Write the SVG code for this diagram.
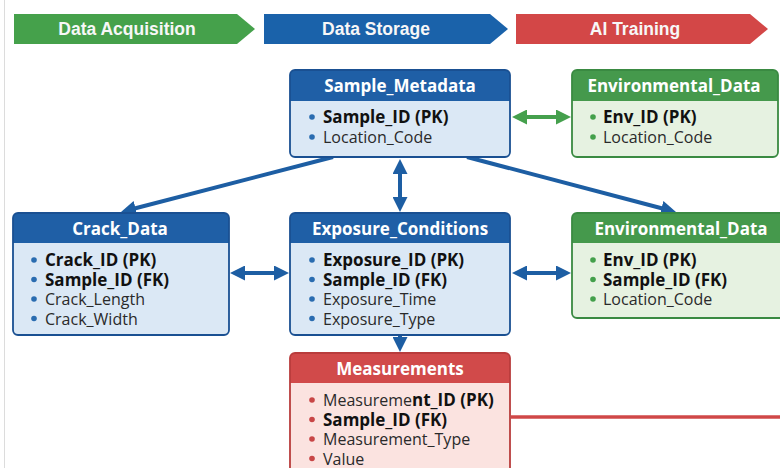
<svg xmlns="http://www.w3.org/2000/svg" width="780" height="468" viewBox="0 0 780 468">
  <defs>
    <style>
      .banner-text { font-family: "Liberation Sans", Arial, sans-serif; font-weight: bold; font-size: 17.5px; fill: #f7f7f7; text-anchor: middle; }
      .hdr { font-family: "Open Sans", "Noto Sans", sans-serif; font-weight: bold; font-size: 17px; fill: #ffffff; text-anchor: middle; }
      .row { font-family: "Open Sans", "Noto Sans", sans-serif; font-size: 16px; fill: #2a2a2a; }
      .key { font-weight: bold; fill: #111111; font-size: 17px; }
      .blue .body { fill: #dbe8f5; }
      .blue .head { fill: #1f5fa6; }
      .blue .frame { fill: none; stroke: #1a5092; stroke-width: 1.8; }
      .blue .dot { fill: #2a6cb0; }
      .green .body { fill: #e6f2e1; }
      .green .head { fill: #45994c; }
      .green .frame { fill: none; stroke: #3a8a42; stroke-width: 1.8; }
      .green .dot { fill: #43a04b; }
      .red .body { fill: #fbe3e0; }
      .red .head { fill: #d14a4a; }
      .red .frame { fill: none; stroke: #b93c3c; stroke-width: 1.8; }
      .red .dot { fill: #c84646; }
      .conn { fill: none; stroke: #1d5ea3; stroke-width: 4; }
      .conn-green { fill: none; stroke: #45a04d; stroke-width: 4; }
      .conn-red { fill: none; stroke: #d04848; stroke-width: 3.5; }
    </style>
    <marker id="headBlue" viewBox="0 0 15 15" refX="3" refY="7.5" markerWidth="15" markerHeight="15" markerUnits="userSpaceOnUse" orient="auto-start-reverse">
      <path d="M0,0 L15,7.5 L0,15 z" fill="#1d5ea3"/>
    </marker>
    <marker id="headGreen" viewBox="0 0 15 15" refX="3" refY="7.5" markerWidth="15" markerHeight="15" markerUnits="userSpaceOnUse" orient="auto-start-reverse">
      <path d="M0,0 L15,7.5 L0,15 z" fill="#45a04d"/>
    </marker>
  </defs>

  <rect x="0" y="0" width="780" height="468" fill="#ffffff"/>
  <line x1="4.5" y1="0" x2="4.5" y2="468" stroke="#dcdcdc" stroke-width="1"/>

  <!-- pipeline stages -->
  <g id="stage-acquisition">
    <polygon points="14,14 237,14 255,29 237,44 14,44" fill="#45a14b"/>
    <text class="banner-text" x="127" y="35">Data Acquisition</text>
  </g>
  <g id="stage-storage">
    <polygon points="264,14 490,14 508,29 490,44 264,44" fill="#1a62aa"/>
    <text class="banner-text" x="376" y="35">Data Storage</text>
  </g>
  <g id="stage-training">
    <polygon points="516,14 750,14 768,29 750,44 516,44" fill="#d34747"/>
    <text class="banner-text" x="635" y="35">AI Training</text>
  </g>

  <!-- connectors -->
  <g id="connectors">
    <line class="conn-green" x1="524" y1="117" x2="559" y2="117" marker-start="url(#headGreen)" marker-end="url(#headGreen)"/>
    <line class="conn" x1="333" y1="157" x2="132.6" y2="209" marker-end="url(#headBlue)"/>
    <line class="conn" x1="467" y1="157" x2="664.4" y2="209" marker-end="url(#headBlue)"/>
    <line class="conn" x1="400" y1="171" x2="400" y2="200" marker-start="url(#headBlue)" marker-end="url(#headBlue)"/>
    <line class="conn" x1="242" y1="273" x2="277" y2="273" marker-start="url(#headBlue)" marker-end="url(#headBlue)"/>
    <line class="conn" x1="524" y1="273" x2="559" y2="273" marker-start="url(#headBlue)" marker-end="url(#headBlue)"/>
    <line class="conn" x1="400" y1="336" x2="400" y2="340" marker-end="url(#headBlue)"/>
    <line class="conn-red" x1="511" y1="417" x2="780" y2="417"/>
  </g>

  <!-- Sample_Metadata -->
  <g id="sample-metadata" class="blue">
    <rect class="body" x="290" y="70" width="220" height="87" rx="5"/>
    <path class="head" d="M290,101 V75 a5,5 0 0 1 5,-5 H505 a5,5 0 0 1 5,5 V101 z"/>
    <rect class="frame" x="290" y="70" width="220" height="87" rx="5"/>
    <text class="hdr" x="400" y="92">Sample_Metadata</text>
    <circle class="dot" cx="312" cy="117" r="2.8"/>
    <text class="row key" x="323" y="123">Sample_ID (PK)</text>
    <circle class="dot" cx="312" cy="137" r="2.8"/>
    <text class="row" x="323" y="143">Location_Code</text>
  </g>

  <!-- Environmental_Data (top) -->
  <g id="environmental-data-top" class="green">
    <rect class="body" x="572" y="70" width="206" height="87" rx="5"/>
    <path class="head" d="M572,101 V75 a5,5 0 0 1 5,-5 H773 a5,5 0 0 1 5,5 V101 z"/>
    <rect class="frame" x="572" y="70" width="206" height="87" rx="5"/>
    <text class="hdr" x="674" y="92">Environmental_Data</text>
    <circle class="dot" cx="593" cy="117" r="2.8"/>
    <text class="row key" x="603" y="123">Env_ID (PK)</text>
    <circle class="dot" cx="593" cy="137" r="2.8"/>
    <text class="row" x="603" y="143">Location_Code</text>
  </g>

  <!-- Crack_Data -->
  <g id="crack-data" class="blue">
    <rect class="body" x="13" y="213" width="216" height="122" rx="5"/>
    <path class="head" d="M13,243 V218 a5,5 0 0 1 5,-5 H224 a5,5 0 0 1 5,5 V243 z"/>
    <rect class="frame" x="13" y="213" width="216" height="122" rx="5"/>
    <text class="hdr" x="120" y="235">Crack_Data</text>
    <circle class="dot" cx="34" cy="260" r="2.8"/>
    <text class="row key" x="45" y="266">Crack_ID (PK)</text>
    <circle class="dot" cx="34" cy="279.5" r="2.8"/>
    <text class="row key" x="45" y="285.5">Sample_ID (FK)</text>
    <circle class="dot" cx="34" cy="299" r="2.8"/>
    <text class="row" x="45" y="305">Crack_Length</text>
    <circle class="dot" cx="34" cy="318.5" r="2.8"/>
    <text class="row" x="45" y="324.5">Crack_Width</text>
  </g>

  <!-- Exposure_Conditions -->
  <g id="exposure-conditions" class="blue">
    <rect class="body" x="290" y="213" width="220" height="122" rx="5"/>
    <path class="head" d="M290,243 V218 a5,5 0 0 1 5,-5 H505 a5,5 0 0 1 5,5 V243 z"/>
    <rect class="frame" x="290" y="213" width="220" height="122" rx="5"/>
    <text class="hdr" x="400" y="235">Exposure_Conditions</text>
    <circle class="dot" cx="312" cy="260" r="2.8"/>
    <text class="row key" x="323" y="266">Exposure_ID (PK)</text>
    <circle class="dot" cx="312" cy="279.5" r="2.8"/>
    <text class="row key" x="323" y="285.5">Sample_ID (FK)</text>
    <circle class="dot" cx="312" cy="299" r="2.8"/>
    <text class="row" x="323" y="305">Exposure_Time</text>
    <circle class="dot" cx="312" cy="318.5" r="2.8"/>
    <text class="row" x="323" y="324.5">Exposure_Type</text>
  </g>

  <!-- Environmental_Data (linked) -->
  <g id="environmental-data" class="green">
    <rect class="body" x="572" y="213" width="218" height="105" rx="5"/>
    <path class="head" d="M572,243 V218 a5,5 0 0 1 5,-5 H785 a5,5 0 0 1 5,5 V243 z"/>
    <rect class="frame" x="572" y="213" width="218" height="105" rx="5"/>
    <text class="hdr" x="681" y="235">Environmental_Data</text>
    <circle class="dot" cx="593" cy="260" r="2.8"/>
    <text class="row key" x="603" y="266">Env_ID (PK)</text>
    <circle class="dot" cx="593" cy="279.5" r="2.8"/>
    <text class="row key" x="603" y="285.5">Sample_ID (FK)</text>
    <circle class="dot" cx="593" cy="299" r="2.8"/>
    <text class="row" x="603" y="305">Location_Code</text>
  </g>

  <!-- Measurements -->
  <g id="measurements" class="red">
    <rect class="body" x="290" y="353" width="220" height="130" rx="5"/>
    <path class="head" d="M290,383 V358 a5,5 0 0 1 5,-5 H505 a5,5 0 0 1 5,5 V383 z"/>
    <rect class="frame" x="290" y="353" width="220" height="130" rx="5"/>
    <text class="hdr" x="400" y="375">Measurements</text>
    <circle class="dot" cx="312" cy="400" r="2.8"/>
    <text class="row" x="323" y="406">Measureme<tspan class="key">nt_ID (PK)</tspan></text>
    <circle class="dot" cx="312" cy="419.5" r="2.8"/>
    <text class="row key" x="323" y="425.5">Sample_ID (FK)</text>
    <circle class="dot" cx="312" cy="439" r="2.8"/>
    <text class="row" x="323" y="445">Measurement_Type</text>
    <circle class="dot" cx="312" cy="458.5" r="2.8"/>
    <text class="row" x="323" y="464.5">Value</text>
  </g>
</svg>
